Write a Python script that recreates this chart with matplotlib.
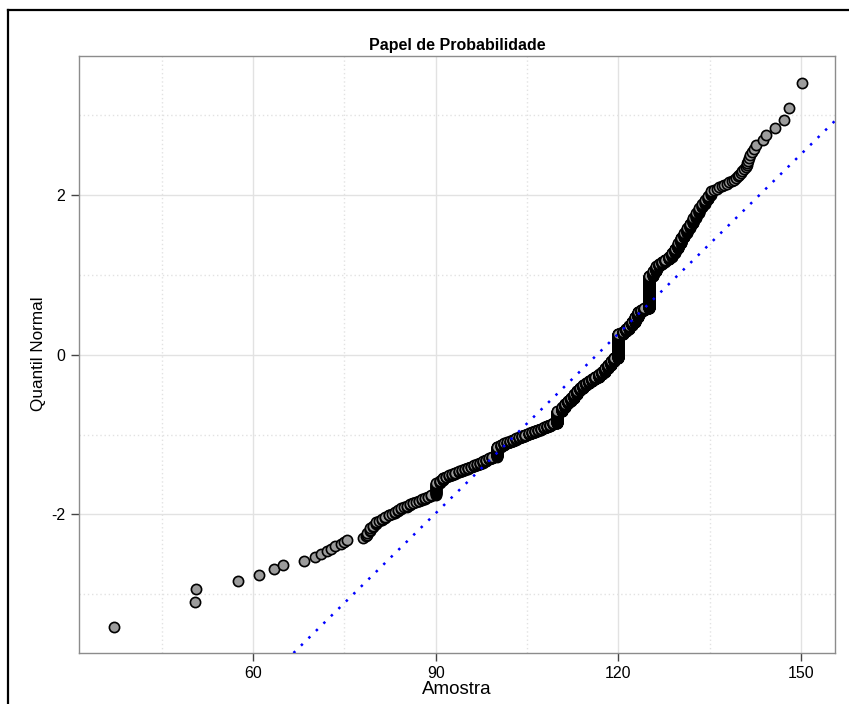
import matplotlib
matplotlib.use("Agg")
import matplotlib.pyplot as plt
from matplotlib.lines import Line2D
import numpy as np
from statistics import NormalDist

plt.rcParams["font.family"] = ["Liberation Sans", "DejaVu Sans"]
plt.rcParams["axes.unicode_minus"] = False

# sample values (sorted); tails one by one,
# the dense middle as a frequency table of rounded values
low_tail = [37.1, 50.5, 50.6, 57.5, 61.0, 63.4, 64.9, 68.3, 70.2, 71.2, 72.2,
            72.8, 73.4, 74.5, 75.0, 75.5, 78.0, 78.5]
body_values = [78.75, 79.25, 79.75, 80.25, 80.75, 81.25, 81.75, 82.25, 82.75, 83.25,
               83.75, 84.25, 84.75, 85.25, 85.75, 86.25, 86.75, 87.25, 87.75, 88.25,
               88.75, 89.25, 90.0, 90.75, 91.25, 91.75, 92.25, 92.75, 93.25, 93.75,
               94.25, 94.75, 95.25, 95.75, 96.25, 96.75, 97.25, 97.75, 98.25, 98.75,
               99.25, 100.0, 100.75, 101.25, 101.75, 102.25, 102.75, 103.25, 103.75, 104.25,
               104.75, 105.25, 105.75, 106.25, 106.75, 107.25, 107.75, 108.25, 108.75, 109.25,
               110.0, 110.75, 111.25, 111.75, 112.25, 112.75, 113.25, 113.75, 114.25, 114.75,
               115.25, 115.75, 116.25, 116.75, 117.25, 117.75, 118.25, 118.75, 119.25, 120.0,
               120.75, 121.25, 121.75, 122.25, 122.75, 123.25, 123.75, 124.25, 125.0, 125.75,
               126.25, 126.75, 127.25, 127.75, 128.25, 128.75, 129.25, 129.75, 130.25, 130.75,
               131.25, 131.75, 132.25, 132.75, 133.25, 133.75, 134.25, 134.75, 135.25]
body_counts = [2, 3, 2, 3, 1, 2, 2, 2, 1, 2,
               2, 2, 1, 2, 2, 2, 1, 2, 2, 2,
               2, 2, 22, 6, 6, 3, 3, 3, 4, 3,
               3, 3, 4, 3, 4, 3, 4, 5, 5, 4,
               5, 36, 7, 7, 4, 5, 6, 6, 5, 6,
               6, 6, 6, 6, 5, 6, 6, 7, 7, 7,
               66, 24, 24, 17, 18, 25, 26, 18, 19, 14,
               15, 15, 15, 19, 19, 26, 26, 26, 27, 180,
               18, 19, 24, 24, 34, 34, 12, 12, 181, 21,
               21, 9, 9, 9, 10, 13, 14, 16, 16, 11,
               11, 10, 10, 8, 8, 5, 5, 5, 5]
high_tail = [135.8, 136.2, 136.6, 137.0, 137.4, 137.8, 138.2, 138.6, 139.0,
             139.3, 139.6, 139.9, 140.1, 140.4, 140.7, 141.0, 141.1, 141.2,
             141.3, 141.5, 141.6, 142.0, 142.3, 142.6, 143.7, 144.3, 145.8,
             147.3, 148.1, 150.1]

# reference line (normal fit)
line_mean = 116.5
line_sd = 13.35

x_major = [60, 90, 120, 150]
x_minor = [45, 75, 105, 135]
y_major = [-2, 0, 2]
y_minor = [-3, -1, 1, 3]

sample = np.concatenate([low_tail, np.repeat(body_values, body_counts), high_tail])
n = len(sample)
nd = NormalDist()
# plotting positions as in qqnorm (ppoints, a = 0.5)
theo = np.array([nd.inv_cdf((i - 0.5) / n) for i in range(1, n + 1)])

fig = plt.figure(figsize=(8.49, 7.04), dpi=100)
ax = fig.add_axes([79 / 849, 1 - 653 / 704, 756 / 849, 597 / 704])

ax.scatter(sample, theo, s=54, c="#9c9c9c", edgecolors="black",
           linewidths=1.2, zorder=3)
ax.axline((line_mean, 0), slope=1 / line_sd, color="#0000ff", lw=1.8,
          ls=(0, (1, 3.2)), zorder=4)

ax.set_xlim(31.4, 155.6)
ax.set_ylim(-3.735, 3.74)
ax.set_xticks(x_major)
ax.set_xticks(x_minor, minor=True)
ax.set_yticks(y_major)
ax.set_yticks(y_minor, minor=True)
ax.set_axisbelow(True)
ax.grid(which="major", color="#e2e2e2", lw=1)
ax.grid(which="minor", color="#e2e2e2", lw=1, ls=(0, (1, 2)))
ax.tick_params(which="minor", length=0)
ax.tick_params(which="major", length=6, width=1, color="#444444",
               labelsize=11.5, pad=3)
ax.tick_params(axis="y", pad=4)
for s in ax.spines.values():
    s.set_color("#8c8c8c")
    s.set_linewidth(1)

ax.set_title("Papel de Probabilidade", fontweight="bold", fontsize=11.5, pad=4)
fig.text(457 / 849, 1 - 690 / 704, "Amostra", ha="center", va="center",
         fontsize=13.5)
fig.text(38.5 / 849, 1 - 354 / 704, "Quantil Normal", rotation=90,
         ha="center", va="center", fontsize=12.3)

# frame around the plot region (cut on the right and bottom)
fig.add_artist(Line2D([8 / 849, 1], [1 - 10 / 704] * 2,
                      transform=fig.transFigure, color="black", lw=1.6))
fig.add_artist(Line2D([8 / 849] * 2, [0, 1 - 10 / 704],
                      transform=fig.transFigure, color="black", lw=1.6))

fig.savefig("out.png", dpi=100)
